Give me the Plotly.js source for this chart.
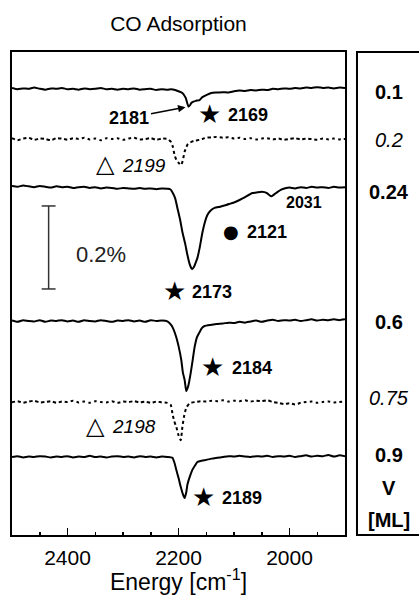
<!DOCTYPE html>
<html>
<head>
<meta charset="utf-8">
<script src="https://cdn.plot.ly/plotly-3.0.1.min.js"></script>
<style>html,body{margin:0;padding:0;background:#fff;}#chart{width:419px;height:595px;}</style>
</head>
<body>
<div id="chart"></div>
<script>
// ---- Data (wavenumber in cm-1, signal ΔR/R in %) ----
var coverages = ['0.1', '0.2', '0.24', '0.6', '0.75', '0.9'];
var coverageItalic = [false, true, false, false, true, false];
var offsets = [-0.0867, -0.2096, -0.3277, -0.6482, -0.8434, -0.9759];

var wnLeft = [2500,2490,2480,2470,2460,2450,2440,2430,2420,2410,2400,2390,2380,2370,2360,2350,2340,2330,2320,2310,2300,2290,2280,2270,2260,2250,2240,2230,2220];

var s1Left = [0.000,-0.003,-0.001,-0.002,0.001,-0.002,-0.004,-0.001,-0.002,0.000,-0.003,-0.002,-0.004,-0.001,-0.003,-0.002,0.000,-0.003,-0.002,-0.004,-0.002,-0.003,-0.001,-0.004,-0.003,-0.002,-0.005,-0.003,-0.004];
var s1WnRest = [2213,2206,2200,2193,2187,2182,2179,2177,2173,2169,2162,2157,2150,2141,2130,2120,2110,2100,2090,2080,2070,2060,2050,2040,2030,2020,2010,2000,1990,1980,1970,1960,1950,1940,1930,1920,1910,1900];
var s1Rest = [-0.003,-0.005,-0.008,-0.012,-0.024,-0.045,-0.041,-0.036,-0.033,-0.031,-0.029,-0.022,-0.017,-0.012,-0.011,-0.010,-0.011,-0.008,-0.006,-0.007,-0.005,-0.006,-0.004,-0.005,-0.002,-0.003,-0.001,-0.002,0.000,-0.001,0.001,0.000,0.002,0.000,0.001,-0.001,0.001,0.000];

var s2Left = [0.002,-0.003,0.001,0.003,-0.002,0.001,0.000,-0.003,0.002,0.001,-0.002,0.002,0.000,0.003,-0.001,0.001,-0.003,0.002,0.000,0.002,-0.002,0.001,0.003,-0.001,0.000,0.002,-0.002,0.001,0.000];
var s2WnRest = [2213,2210,2207,2204,2201,2198,2195,2192,2189,2186,2183,2180,2171,2162,2150,2140,2132,2120,2110,2100,2090,2080,2070,2060,2050,2040,2030,2020,2010,2000,1990,1980,1970,1960,1950,1940,1930,1920,1910,1900];
var s2Rest = [-0.008,-0.020,-0.039,-0.050,-0.056,-0.060,-0.063,-0.050,-0.031,-0.020,-0.012,-0.009,-0.004,-0.002,0.003,0.004,0.005,0.003,0.004,0.001,0.003,0.000,0.002,-0.001,0.001,0.002,-0.001,0.001,-0.002,0.000,0.002,-0.001,0.001,0.000,-0.002,0.001,-0.001,0.001,-0.001,0.000];

var s3Left = [0.005,0.003,0.006,0.004,0.002,0.005,0.003,0.001,0.004,0.002,0.003,0.000,0.002,0.003,0.000,0.002,-0.001,0.001,0.000,-0.002,0.000,-0.001,-0.002,0.000,-0.002,-0.001,-0.003,-0.001,-0.002];
var s3WnRest = [2215,2211,2206,2202,2197,2193,2188,2184,2180,2177,2175,2172,2169,2166,2162,2157,2153,2148,2142,2135,2125,2114,2105,2100,2090,2080,2067,2060,2050,2045,2040,2033,2028,2022,2015,2006,2000,1990,1980,1970,1960,1950,1940,1930,1920,1910,1900];
var s3Rest = [-0.003,-0.010,-0.025,-0.048,-0.077,-0.106,-0.134,-0.161,-0.183,-0.193,-0.195,-0.190,-0.180,-0.169,-0.145,-0.108,-0.085,-0.065,-0.054,-0.048,-0.045,-0.041,-0.037,-0.035,-0.029,-0.022,-0.012,-0.011,-0.009,-0.010,-0.013,-0.020,-0.016,-0.010,-0.004,0.000,0.001,-0.001,0.002,0.000,0.003,0.001,0.002,0.000,0.003,0.001,0.002];

var s4Left = [0.001,-0.002,0.002,0.000,-0.001,0.002,-0.002,0.001,0.000,0.002,-0.001,0.001,-0.002,0.002,0.000,-0.001,0.002,0.000,-0.002,0.001,0.000,0.002,-0.001,0.001,-0.002,0.002,0.000,0.001,-0.001];
var s4WnRest = [2213,2209,2204,2200,2195,2192,2189,2186,2184,2182,2178,2174,2171,2167,2162,2158,2153,2140,2132,2120,2110,2100,2090,2080,2070,2060,2050,2040,2030,2020,2010,2000,1990,1980,1970,1960,1950,1940,1930,1920,1910,1900];
var s4Rest = [-0.010,-0.020,-0.039,-0.060,-0.094,-0.125,-0.142,-0.169,-0.163,-0.154,-0.125,-0.090,-0.063,-0.040,-0.027,-0.017,-0.012,-0.009,-0.007,-0.006,-0.004,-0.005,-0.002,-0.004,-0.001,0.001,-0.002,0.001,0.003,0.000,0.002,0.001,0.003,0.000,0.002,0.004,0.001,0.003,0.002,0.004,0.002,0.004];

var s5Left = [-0.001,0.002,-0.002,0.001,0.003,-0.001,0.000,0.002,-0.002,0.001,0.000,0.003,-0.001,0.001,-0.002,0.002,0.000,-0.001,0.002,-0.002,0.001,0.000,0.002,-0.001,0.001,-0.002,0.001,-0.001,-0.002];
var s5WnRest = [2214,2211,2208,2204,2200,2196,2193,2190,2186,2180,2170,2160,2150,2140,2130,2120,2110,2100,2090,2080,2070,2060,2050,2040,2030,2020,2010,2000,1990,1980,1970,1960,1950,1940,1930,1920,1910,1900];
var s5Rest = [-0.007,-0.027,-0.045,-0.060,-0.080,-0.092,-0.060,-0.035,-0.014,-0.003,0.000,0.002,0.001,0.003,0.002,0.004,0.001,0.003,0.002,0.004,0.001,0.003,0.002,0.004,0.000,-0.002,-0.005,-0.003,-0.006,-0.002,0.000,0.001,-0.002,0.000,0.001,-0.001,0.000,0.001];

var s6Left = [0.000,0.002,-0.001,0.001,0.000,0.002,0.001,-0.001,0.001,0.000,0.002,-0.001,0.001,0.000,0.003,0.000,0.001,-0.001,0.001,0.002,0.000,0.001,-0.001,0.002,0.000,0.001,-0.001,0.001,0.000];
var s6WnRest = [2211,2207,2204,2200,2196,2192,2189,2186,2184,2179,2175,2170,2166,2158,2150,2140,2130,2120,2110,2100,2090,2080,2070,2060,2050,2040,2030,2020,2010,2000,1990,1980,1970,1960,1950,1940,1930,1920,1910,1900];
var s6Rest = [-0.002,-0.015,-0.031,-0.050,-0.072,-0.090,-0.099,-0.085,-0.067,-0.045,-0.031,-0.020,-0.012,-0.009,-0.007,-0.004,-0.002,0.000,0.002,0.001,0.003,0.001,0.000,0.002,0.001,0.003,0.000,0.002,0.001,0.003,0.000,0.002,0.004,0.001,0.003,0.002,0.005,0.001,0.004,0.002];

var peakLabels = ['2181','2169','2199','2031','2121','2173','2184','2198','2189'];
var scaleBarValue = 0.2;

// ---- Build traces ----
var spectra = [
  [s1Left, s1WnRest, s1Rest],
  [s2Left, s2WnRest, s2Rest],
  [s3Left, s3WnRest, s3Rest],
  [s4Left, s4WnRest, s4Rest],
  [s5Left, s5WnRest, s5Rest],
  [s6Left, s6WnRest, s6Rest]
];
var traces = spectra.map(function (s, i) {
  var x = wnLeft.concat(s[1]);
  var y = s[0].concat(s[2]).map(function (v) { return v + offsets[i]; });
  return {
    x: x, y: y, type: 'scatter', mode: 'lines', hoverinfo: 'skip',
    line: { color: '#000', width: 2, shape: 'spline', smoothing: 0.5,
            dash: coverageItalic[i] ? '3px,3px' : 'solid' }
  };
});

var F = 'Liberation Sans, Arial, sans-serif';
var SYM = 'DejaVu Sans, sans-serif';
function ann(x, y, text, size, opts) {
  var a = { x: x, y: y, xref: 'x', yref: 'y', text: text, showarrow: false,
            font: { family: F, size: size, color: '#000' }, xanchor: 'left', yanchor: 'middle' };
  for (var k in opts) a[k] = opts[k];
  return a;
}
function sym(x, y, ch, size) {
  return { x: x, y: y, xref: 'x', yref: 'y', text: ch, showarrow: false,
           font: { family: SYM, size: size, color: '#000' }, xanchor: 'center', yanchor: 'middle' };
}

var annotations = [
  { x: 2185.6, y: -0.1325, xref: 'x', yref: 'y', text: '<b>' + peakLabels[0] + '</b>',
    showarrow: true, ax: -57, ay: 11, arrowhead: 2, arrowsize: 1, arrowwidth: 1.5, arrowcolor: '#000',
    standoff: 1, font: { family: F, size: 18, color: '#000' } },
  sym(2144, -0.1495, '★', 26), ann(2114, -0.1518, '<b>' + peakLabels[1] + '</b>', 18),
  sym(2331, -0.2700, '△', 24), ann(2306, -0.2723, '<i>' + peakLabels[2] + '</i>', 19),
  ann(1973, -0.362, '<b>' + peakLabels[3] + '</b>', 16, { xanchor: 'center' }),
  sym(2105, -0.4320, '●', 18), ann(2081, -0.4337, '<b>' + peakLabels[4] + '</b>', 18),
  sym(2207, -0.5760, '★', 26), ann(2180, -0.5783, '<b>' + peakLabels[5] + '</b>', 18),
  sym(2139, -0.7590, '★', 26), ann(2108, -0.7614, '<b>' + peakLabels[6] + '</b>', 18),
  sym(2349, -0.9010, '△', 24), ann(2324, -0.9036, '<i>' + peakLabels[7] + '</i>', 19),
  sym(2155, -1.0720, '★', 26), ann(2126, -1.0747, '<b>' + peakLabels[8] + '</b>', 18),
  ann(2389, -0.487, '0.2%', 22, { font: { family: F, size: 22, color: '#222' } })
];

var labelY = [0.917, 0.818, 0.710, 0.441, 0.284, 0.166];
coverages.forEach(function (c, i) {
  annotations.push({ x: 1.132, y: labelY[i], xref: 'paper', yref: 'paper', showarrow: false,
    text: coverageItalic[i] ? '<i>' + c + '</i>' : '<b>' + c + '</b>',
    font: { family: F, size: 20, color: '#000' }, xanchor: 'center', yanchor: 'middle' });
});
annotations.push({ x: 1.132, y: 0.097, xref: 'paper', yref: 'paper', showarrow: false, text: '<b>V</b>',
  font: { family: F, size: 20, color: '#000' }, xanchor: 'center', yanchor: 'middle' });
annotations.push({ x: 1.132, y: 0.031, xref: 'paper', yref: 'paper', showarrow: false, text: '<b>[ML]</b>',
  font: { family: F, size: 20, color: '#000' }, xanchor: 'center', yanchor: 'middle' });

var barX = 2434, barTop = -0.371;
var shapes = [
  { type: 'line', xref: 'x', yref: 'y', x0: barX, x1: barX, y0: barTop, y1: barTop - scaleBarValue, line: { color: '#333', width: 1.5 } },
  { type: 'line', xref: 'x', yref: 'y', x0: barX + 12.5, x1: barX - 12.5, y0: barTop, y1: barTop, line: { color: '#333', width: 1.5 } },
  { type: 'line', xref: 'x', yref: 'y', x0: barX + 12.5, x1: barX - 12.5, y0: barTop - scaleBarValue, y1: barTop - scaleBarValue, line: { color: '#333', width: 1.5 } },
  { type: 'rect', xref: 'paper', yref: 'paper', x0: 1.036, x1: 1.5, y0: 0, y1: 1, line: { color: '#000', width: 2 } }
];

var layout = {
  width: 419, height: 595,
  margin: { l: 12, r: 74, t: 52, b: 60 },
  paper_bgcolor: '#fff', plot_bgcolor: '#fff',
  showlegend: false,
  font: { family: F, color: '#000' },
  title: { text: 'CO Adsorption', x: 0.5, xref: 'paper', y: 1 - 24 / 595, yref: 'container', yanchor: 'middle',
           font: { family: F, size: 21, color: '#000' } },
  xaxis: {
    range: [2500, 1900], showline: true, mirror: true, linecolor: '#000', linewidth: 2,
    ticks: 'inside', ticklen: 7, tickwidth: 1.5, tickcolor: '#000', tick0: 2000, dtick: 200,
    ticklabelstandoff: 3,
    minor: { dtick: 50, ticks: 'inside', ticklen: 3, tickwidth: 1.5, tickcolor: '#000', showgrid: false },
    showgrid: false, zeroline: false,
    tickfont: { family: F, size: 21, color: '#000' },
    title: { text: 'Energy [cm<sup>-1</sup>]', font: { family: F, size: 23, color: '#000' }, standoff: 0 }
  },
  yaxis: {
    range: [-1.1639, 0], showline: true, mirror: true, linecolor: '#000', linewidth: 2,
    showticklabels: false, ticks: '', showgrid: false, zeroline: false
  },
  shapes: shapes,
  annotations: annotations
};

Plotly.newPlot('chart', traces, layout, { displayModeBar: false, staticPlot: true });
</script>
</body>
</html>
